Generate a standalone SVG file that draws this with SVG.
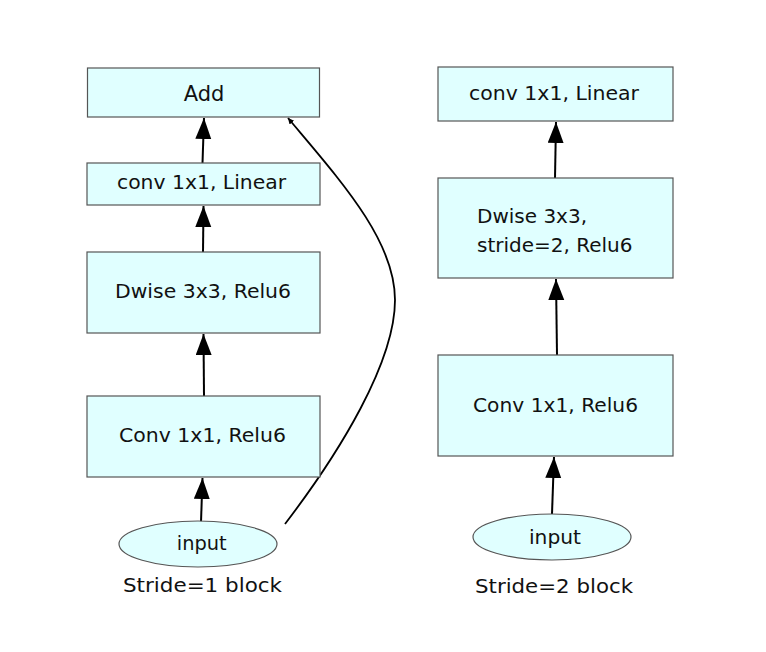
<svg xmlns="http://www.w3.org/2000/svg" width="766" height="652" viewBox="0 0 766 652">
<style>
.box{fill:#e0ffff;stroke:#555555;stroke-width:1.2}
.t{font-family:"DejaVu Sans","Liberation Sans",sans-serif;fill:#111111;text-anchor:middle}
.tl{font-family:"DejaVu Sans","Liberation Sans",sans-serif;fill:#111111}
.ln{stroke:#000000;stroke-width:2;fill:none}
.cv{stroke:#000000;stroke-width:1.8;fill:none}
</style>
<defs>
<marker id="ah" markerUnits="userSpaceOnUse" markerWidth="24" markerHeight="18" refX="21" refY="8" orient="auto">
<path d="M0,0 L21,8 L0,16 Z" fill="#000"/>
</marker>
<marker id="sh" markerUnits="userSpaceOnUse" markerWidth="8" markerHeight="8" refX="6" refY="3" orient="auto">
<path d="M0,0 L6,3 L0,6 Z" fill="#000"/>
</marker>
</defs>
<rect width="766" height="652" fill="#ffffff"/>
<g id="connectors">
<line class="ln" x1="201" y1="522" x2="202.5" y2="478" marker-end="url(#ah)"/>
<line class="ln" x1="204" y1="396" x2="203.5" y2="334" marker-end="url(#ah)"/>
<line class="ln" x1="203" y1="252" x2="203.5" y2="206" marker-end="url(#ah)"/>
<line class="ln" x1="202.5" y1="163" x2="204" y2="118" marker-end="url(#ah)"/>
<path class="cv" d="M285,524 C340,452 395,362 395,300 C395,240 340,180 288,118" marker-end="url(#sh)"/>
<line class="ln" x1="552" y1="514" x2="554" y2="457" marker-end="url(#ah)"/>
<line class="ln" x1="557" y1="355" x2="556" y2="279" marker-end="url(#ah)"/>
<line class="ln" x1="555" y1="178" x2="556" y2="122" marker-end="url(#ah)"/>
</g>
<g id="add"><rect class="box" x="87.5" y="68" width="232" height="49"/><text class="t" x="204" y="101" font-size="21">Add</text></g>
<g id="l-conv-linear"><rect class="box" x="87" y="163" width="233" height="42"/><text class="t" x="201.5" y="189" font-size="19" textLength="169" lengthAdjust="spacingAndGlyphs">conv 1x1, Linear</text></g>
<g id="l-dwise"><rect class="box" x="87" y="252" width="233" height="81"/><text class="t" x="203" y="298" font-size="18.6" textLength="176" lengthAdjust="spacingAndGlyphs">Dwise 3x3, Relu6</text></g>
<g id="l-conv-relu"><rect class="box" x="87" y="396" width="233" height="81"/><text class="t" x="202.5" y="442" font-size="19.4" textLength="167" lengthAdjust="spacingAndGlyphs">Conv 1x1, Relu6</text></g>
<g id="l-input"><ellipse class="box" cx="198" cy="544" rx="79" ry="23"/><text class="t" x="201.7" y="550" font-size="19.4">input</text></g>
<text class="t" x="202.5" y="592" font-size="19.8" textLength="159" lengthAdjust="spacingAndGlyphs">Stride=1 block</text>
<g id="r-conv-linear"><rect class="box" x="438" y="67" width="235" height="54"/><text class="t" x="554" y="100" font-size="19" textLength="170" lengthAdjust="spacingAndGlyphs">conv 1x1, Linear</text></g>
<g id="r-dwise"><rect class="box" x="438" y="178" width="235" height="100"/><text class="tl" x="477" y="223" font-size="20">Dwise 3x3,</text><text class="tl" x="477" y="252" font-size="20">stride=2, Relu6</text></g>
<g id="r-conv-relu"><rect class="box" x="438" y="355" width="235" height="101"/><text class="t" x="555.5" y="412" font-size="19.2" textLength="165" lengthAdjust="spacingAndGlyphs">Conv 1x1, Relu6</text></g>
<g id="r-input"><ellipse class="box" cx="552" cy="537" rx="79" ry="23"/><text class="t" x="555" y="544" font-size="20" textLength="52" lengthAdjust="spacingAndGlyphs">input</text></g>
<text class="t" x="554" y="593" font-size="20" textLength="158" lengthAdjust="spacingAndGlyphs">Stride=2 block</text>
</svg>
